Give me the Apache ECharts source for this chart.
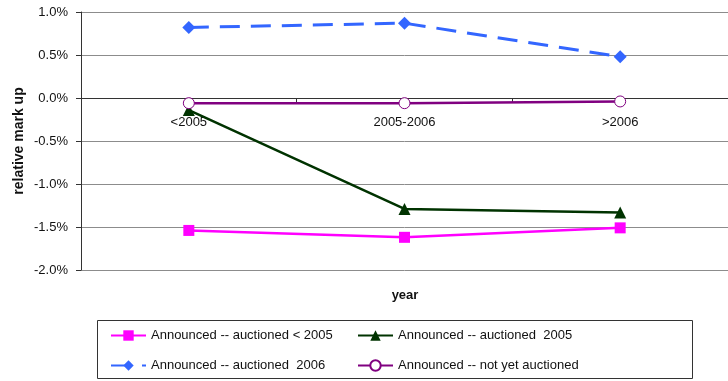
<!DOCTYPE html>
<html>
<head>
<meta charset="utf-8">
<script src="https://cdn.jsdelivr.net/npm/echarts@6/dist/echarts.min.js"></script>
<style>
  html, body { margin: 0; padding: 0; background: #fff; }
  #chart { width: 728px; height: 381px; }
</style>
</head>
<body>
<div id="chart"></div>
<script>
// Auction periods on the category axis
var years = ['<2005', '2005-2006', '>2006'];

// Relative mark up, in percent
var auctionedBefore2005 = [-1.54, -1.62, -1.51];
var auctioned2005 = [-0.14, -1.29, -1.33];
var auctioned2006 = [0.82, 0.87, 0.48];
var notYetAuctioned = [-0.06, -0.06, -0.04];

var yTicks = { min: -2, max: 1, step: 0.5 };

var seriesNames = [
  'Announced -- auctioned < 2005',
  'Announced -- auctioned  2005',
  'Announced -- auctioned  2006',
  'Announced -- not yet auctioned'
];

var font = 'Liberation Sans, Arial, sans-serif';
var gridTop = 12, gridHeight = 258;
// The category axis crosses the value axis at zero
var zeroOffset = gridHeight * (yTicks.max - 0) / (yTicks.max - yTicks.min) - gridHeight;

var chart = echarts.init(document.getElementById('chart'), null, { renderer: 'canvas' });

chart.setOption({
  animation: false,
  backgroundColor: '#fff',
  textStyle: { fontFamily: font },
  grid: { left: 81, top: gridTop, width: 651, height: gridHeight },
  xAxis: {
    type: 'category',
    data: years,
    boundaryGap: true,
    position: 'bottom',
    offset: zeroOffset,
    axisLine: { onZero: false, lineStyle: { color: '#333', width: 1 } },
    axisTick: { show: true, inside: false, length: 5, lineStyle: { color: '#333' } },
    axisLabel: { color: '#111', fontSize: 13, margin: 18, fontFamily: font },
    splitLine: { show: false }
  },
  yAxis: {
    type: 'value',
    min: yTicks.min,
    max: yTicks.max,
    interval: yTicks.step,
    name: 'relative mark up',
    nameLocation: 'middle',
    nameRotate: 90,
    nameGap: 55,
    nameMoveOverlap: false,
    nameTextStyle: { fontSize: 14, fontWeight: 'bold', color: '#111', fontFamily: font },
    axisLine: { show: true, lineStyle: { color: '#333', width: 1 } },
    axisTick: { show: true, length: 5, lineStyle: { color: '#333' } },
    axisLabel: {
      color: '#111', fontSize: 13, margin: 13, fontFamily: font,
      formatter: function (v) { return v.toFixed(1) + '%'; }
    },
    splitLine: { show: true, lineStyle: { color: '#8c8c8c', width: 1 } }
  },
  legend: [
    {
      data: [seriesNames[0], seriesNames[2]],
      orient: 'vertical',
      left: 110, top: 329,
      itemWidth: 35, itemHeight: 13, itemGap: 17,
      padding: 0,
      textStyle: { fontSize: 13, color: '#111', fontFamily: font }
    },
    {
      data: [seriesNames[1], seriesNames[3]],
      orient: 'vertical',
      left: 357, top: 329,
      itemWidth: 35, itemHeight: 13, itemGap: 17,
      padding: 0,
      textStyle: { fontSize: 13, color: '#111', fontFamily: font }
    }
  ],
  graphic: [
    {
      type: 'rect',
      shape: { x: 97.5, y: 320.5, width: 595, height: 58 },
      style: { fill: 'none', stroke: '#333', lineWidth: 1 },
      z: 0
    },
    {
      type: 'text',
      x: 405, y: 289,
      style: { text: 'year', fontSize: 13, fontWeight: 'bold', fill: '#111', fontFamily: font, textAlign: 'center' }
    }
  ],
  series: [
    {
      name: seriesNames[0],
      type: 'line',
      data: auctionedBefore2005,
      symbol: 'rect',
      symbolSize: 11,
      lineStyle: { color: '#ff00ff', width: 2.5 },
      itemStyle: { color: '#ff00ff' }
    },
    {
      name: seriesNames[1],
      type: 'line',
      data: auctioned2005,
      symbol: 'triangle',
      symbolSize: 12,
      lineStyle: { color: '#003300', width: 2.5 },
      itemStyle: { color: '#003300' }
    },
    {
      name: seriesNames[2],
      type: 'line',
      data: auctioned2006,
      symbol: 'diamond',
      symbolSize: 13,
      lineStyle: { color: '#3366ff', width: 3, type: [20, 11] },
      itemStyle: { color: '#3366ff' }
    },
    {
      name: seriesNames[3],
      type: 'line',
      data: notYetAuctioned,
      symbol: 'circle',
      symbolSize: 11,
      lineStyle: { color: '#800080', width: 2.5 },
      itemStyle: { color: '#ffffff', borderColor: '#800080', borderWidth: 1 }
    }
  ]
});
</script>
</body>
</html>
